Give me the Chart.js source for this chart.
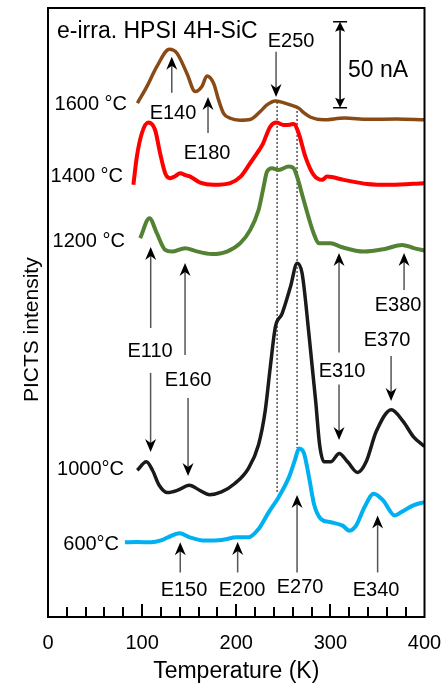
<!DOCTYPE html>
<html>
<head>
<meta charset="utf-8">
<script src="https://cdn.jsdelivr.net/npm/chart.js@4.4.1/dist/chart.umd.min.js"></script>
<style>
  html, body { margin: 0; padding: 0; background: #fff; }
  #wrap { width: 448px; height: 685px; }
</style>
</head>
<body>
<div id="wrap"><canvas id="picts" width="448" height="685"></canvas></div>
<script>
// PICTS spectra, e-irradiated HPSI 4H-SiC, per anneal temperature.
// Intensities in nA, each spectrum already shifted by its stacking offset.
const temp1600 = [95, 105, 115.6, 129, 137, 147.5, 156.4, 163.5, 168.8, 175.9, 181.2, 186.5, 193.6, 204, 214.9, 225.5, 232.6, 241.5, 250, 257.4, 266.3, 272, 279, 292.6, 315, 340, 370, 400];
const sig1600 = [298.7, 308.3, 319.9, 330, 327.7, 316.1, 305.4, 308.3, 314.5, 310.3, 300.6, 292.8, 289.9, 288.8, 289.2, 293.8, 297.7, 300, 299, 297.7, 295.8, 293, 290.5, 289, 290, 289.3, 289.5, 289];

const temp1400 = [90.7, 94.4, 99.7, 106.7, 113.8, 119.1, 124.5, 129.8, 135, 140.4, 146, 151.1, 161.7, 175.9, 193.6, 204.3, 214.9, 222.3, 227.7, 236.2, 242.6, 250.3, 257, 261, 266.3, 273.4, 282.2, 291.2, 296.5, 314.1, 339, 363.8, 400];
const sig1400 = [251.2, 267.6, 281.2, 287.4, 283.1, 269.6, 258, 255.1, 256.2, 258, 256.8, 256, 252.5, 251.2, 252.2, 255.8, 263.9, 269.8, 274.4, 285.1, 287.4, 286, 286.2, 286.6, 281.2, 267.6, 257, 254.1, 256, 254.1, 251.7, 251.2, 252.2];

const temp1200 = [97.9, 107.8, 115.6, 124.5, 131.6, 145.7, 156.4, 174.1, 190.1, 204.3, 214.9, 223.7, 228.4, 232.7, 238, 245, 255.6, 261, 264.6, 271.6, 278.7, 282.2, 287.6, 300, 312.4, 335.4, 356.7, 376.3, 388.6, 400];
const sig1200 = [220.2, 231.8, 223.1, 213.4, 212.4, 214.4, 212.8, 211, 212.4, 217.3, 225, 236.6, 248.3, 258.9, 260.9, 259.9, 261.8, 260.9, 256, 242.4, 228.9, 223.1, 217.3, 217.3, 214.9, 212.4, 213.8, 216.3, 214.4, 213];

const temp1000 = [94.8, 104.5, 111, 118.1, 127, 137.8, 150.2, 161, 171.7, 184.3, 198.5, 212.8, 223.6, 230.7, 236.1, 241.5, 248.6, 257.6, 264.7, 270, 277.2, 284.4, 288.6, 293.3, 300.4, 309.4, 318.3, 329, 338, 348.7, 364.8, 377.3, 388.1, 400];
const sig1000 = [85.3, 90.2, 85.3, 76.6, 72.3, 73.7, 76.6, 73.7, 71.1, 72.7, 77.6, 86.3, 100, 119.6, 145, 168.4, 176.2, 191.9, 205.6, 199.7, 164.5, 125.4, 100, 90.2, 90.2, 95.1, 90.2, 84, 90.2, 107.8, 120.5, 113.7, 104.9, 99.1];

const temp600 = [81.7, 95, 109.6, 120, 127.4, 139.9, 150.6, 166.7, 184.6, 200.6, 213.1, 223.8, 234.6, 245.2, 256, 262.3, 266.7, 272, 277.3, 282.8, 289.9, 300.5, 313.1, 320.2, 327.3, 336.3, 346, 356, 368.4, 375.5, 388.1, 400];
const sig600 = [43.4, 43.6, 43.4, 44.5, 46.3, 48.7, 46.3, 44.4, 44.8, 46.3, 46.3, 51.2, 61, 69.8, 81.3, 91.2, 98, 95.1, 81.3, 65.2, 57, 55.1, 53.1, 50.2, 53.1, 63.9, 71.7, 67.8, 59, 61, 64.9, 66.8];

// dotted guides through the E250 / E270 peak positions
const guideTemp = [243.4, 264.6];
const guideTop = [299.4, 296.5];
const guideBottom = [72.7, 98.3];

// level arrows: temperature, tail intensity, tip intensity
const arrowTemp = [131.5, 170, 242.3, 109.1, 109, 145.6, 148.8, 309.2, 309.2, 378.3, 364.5, 140.5, 201.5, 264.6, 350.2];
const arrowFrom = [304.7, 281.4, 328.5, 168, 141.9, 152.3, 127.3, 153.8, 135.2, 190.1, 151.7, 25.9, 25.9, 25.9, 25.9];
const arrowTo = [325.6, 302.3, 302.3, 215.1, 95.9, 205.8, 82, 211.6, 102.9, 211.6, 125.6, 43.4, 43.6, 70.9, 59];

// level names and where they sit
const levelNames = ['E250', 'E140', 'E180', 'E110', 'E160', 'E380', 'E370', 'E310', 'E150', 'E200', 'E270', 'E340'];
const levelTemp = [258.2, 132.8, 169, 108.4, 148.8, 371.9, 360.3, 312.4, 144.5, 206.2, 267.8, 348.6];
const levelSig = [334.3, 292.4, 269.2, 154.1, 137.2, 180.8, 160.5, 143, 15.7, 15.7, 17.4, 15.7];

// anneal labels, right-aligned in front of each spectrum
const annealNames = ['1600 °C', '1400 °C', '1200 °C', '1000°C', '600°C'];
const annealTemp = [84, 79.7, 81.8, 80.8, 75.5];
const annealSig = [297.7, 255.8, 218, 85.5, 41.9];

// 50 nA scale bar
const barTemp = 310.3;
const barLow = 296;
const barHigh = 346;

const FONT = "'Liberation Sans', Arial, sans-serif";

function pts(xs, ys) {
  return xs.map((x, i) => ({ x, y: ys[i] }));
}

function spectrum(xs, ys, color, width) {
  return {
    data: pts(xs, ys),
    borderColor: color,
    borderWidth: width,
    pointRadius: 0,
    cubicInterpolationMode: 'monotone',
    fill: false
  };
}

const guides = guideTemp.map((t, i) => ({
  data: [{ x: t, y: guideTop[i] }, { x: t, y: guideBottom[i] }],
  borderColor: '#222',
  borderWidth: 1.2,
  borderDash: [2, 2],
  pointRadius: 0,
  fill: false
}));

function drawHead(ctx, x, y, dir, len, half, notch) {
  ctx.beginPath();
  ctx.moveTo(x, y);
  ctx.lineTo(x - half, y - dir * len);
  ctx.lineTo(x, y - dir * (len - notch));
  ctx.lineTo(x + half, y - dir * len);
  ctx.closePath();
  ctx.fill();
}

const annotate = {
  id: 'annotate',
  afterDraw(chart) {
    const { ctx, chartArea: a, scales: { x, y } } = chart;
    ctx.save();

    // frame + inward ticks
    ctx.strokeStyle = '#000';
    ctx.lineWidth = 2;
    ctx.strokeRect(a.left, a.top, a.right - a.left, a.bottom - a.top);
    for (let t = 20; t < 400; t += 20) {
      const px = Math.round(x.getPixelForValue(t));
      const len = t % 100 === 0 ? 13 : 10;
      ctx.beginPath();
      ctx.moveTo(px, a.bottom);
      ctx.lineTo(px, a.bottom - len);
      ctx.stroke();
    }

    // arrows
    arrowTemp.forEach((t, i) => {
      const px = x.getPixelForValue(t);
      const y0 = y.getPixelForValue(arrowFrom[i]);
      const y1 = y.getPixelForValue(arrowTo[i]);
      const dir = Math.sign(y1 - y0);
      ctx.strokeStyle = '#555';
      ctx.lineWidth = 1.5;
      ctx.beginPath();
      ctx.moveTo(px, y0);
      ctx.lineTo(px, y1 - dir * 8);
      ctx.stroke();
      ctx.fillStyle = '#000';
      drawHead(ctx, px, y1, dir, 13, 5.5, 4);
    });

    // scale bar
    const bx = x.getPixelForValue(barTemp);
    const bTop = y.getPixelForValue(barHigh);
    const bBot = y.getPixelForValue(barLow);
    ctx.strokeStyle = '#000';
    ctx.fillStyle = '#000';
    ctx.lineWidth = 1.5;
    ctx.beginPath();
    ctx.moveTo(bx, bTop + 6);
    ctx.lineTo(bx, bBot - 6);
    ctx.moveTo(bx - 7, bTop);
    ctx.lineTo(bx + 7, bTop);
    ctx.moveTo(bx - 7, bBot);
    ctx.lineTo(bx + 7, bBot);
    ctx.stroke();
    drawHead(ctx, bx, bTop, -1, 10, 5, 2);
    drawHead(ctx, bx, bBot, 1, 10, 5, 2);

    // texts
    ctx.fillStyle = '#000';
    ctx.textBaseline = 'middle';
    ctx.font = '20px ' + FONT;
    ctx.textAlign = 'center';
    levelNames.forEach((s, i) => {
      ctx.fillText(s, x.getPixelForValue(levelTemp[i]), y.getPixelForValue(levelSig[i]));
    });
    ctx.textAlign = 'right';
    annealNames.forEach((s, i) => {
      ctx.fillText(s, x.getPixelForValue(annealTemp[i]), y.getPixelForValue(annealSig[i]));
    });
    ctx.font = '23px ' + FONT;
    ctx.textAlign = 'left';
    ctx.fillText('e-irra. HPSI 4H-SiC', x.getPixelForValue(9.6), y.getPixelForValue(340.3));
    ctx.fillText('50 nA', x.getPixelForValue(318.8), y.getPixelForValue(317.4));

    // y axis title
    ctx.font = '21px ' + FONT;
    ctx.textAlign = 'center';
    ctx.translate(a.left - 16, y.getPixelForValue(167));
    ctx.rotate(-Math.PI / 2);
    ctx.fillText('PICTS intensity', 0, 0);
    ctx.restore();
  }
};

new Chart(document.getElementById('picts'), {
  type: 'line',
  data: {
    datasets: [
      spectrum(temp1600, sig1600, '#8a4a16', 3.5),
      spectrum(temp1400, sig1400, '#ff0000', 4),
      spectrum(temp1200, sig1200, '#548235', 4),
      spectrum(temp1000, sig1000, '#1a1a1a', 3.5),
      spectrum(temp600, sig600, '#00b0f0', 4),
      ...guides
    ]
  },
  options: {
    responsive: false,
    animation: false,
    devicePixelRatio: 1,
    layout: { padding: { top: 8, right: 23.5, bottom: 0, left: 0 } },
    plugins: { legend: { display: false }, tooltip: { enabled: false } },
    scales: {
      x: {
        type: 'linear',
        min: 0,
        max: 400,
        grid: { display: false, drawTicks: false },
        border: { display: false },
        ticks: {
          stepSize: 100,
          maxRotation: 0,
          autoSkip: false,
          padding: 14,
          color: '#000',
          font: { family: FONT, size: 20 }
        },
        title: {
          display: true,
          text: 'Temperature (K)',
          color: '#000',
          font: { family: FONT, size: 23, lineHeight: 1 },
          padding: { top: 0, bottom: 1.5 }
        },
        // the end labels may hang past the plot edges; keep the frame fixed
        afterFit: s => { s.height = 68; s.paddingLeft = 0; s.paddingRight = 0; }
      },
      y: {
        min: 0,
        max: 354,
        grid: { display: false },
        border: { display: false },
        ticks: { display: false },
        afterFit: s => { s.width = 48; s.paddingTop = 0; s.paddingBottom = 0; }
      }
    }
  },
  plugins: [annotate]
});
</script>
</body>
</html>
